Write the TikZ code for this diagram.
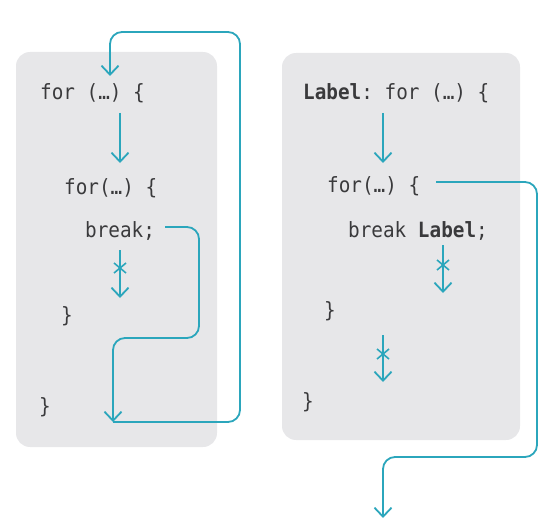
\documentclass[tikz,border=0pt]{standalone}
\usepackage{fontspec}
\setmonofont{DejaVu Sans Mono}[FakeStretch=0.92]
\usetikzlibrary{arrows.meta,calc}
\definecolor{flow}{HTML}{2BA6BC}
\definecolor{panel}{HTML}{E7E7E9}
\definecolor{code}{HTML}{3A3A3C}
\tikzset{
  panelbox/.style={fill=panel,draw=none,rounded corners=14pt},
  codetext/.style={anchor=base west,inner sep=0pt,text=code,font=\ttfamily\fontsize{21}{22}\selectfont},
  flowline/.style={draw=flow,line width=1.8pt,-{Straight Barb[length=9pt,width=17pt,line width=1.8pt]}},
  routeline/.style={flowline,rounded corners=12pt},
  crossmark/.style={draw=flow,line width=1.6pt}
}
\newcommand{\crossat}[1]{\draw[crossmark] ($(#1)+(-6pt,-5pt)$) -- ($(#1)+(6pt,5pt)$) ($(#1)+(-6pt,5pt)$) -- ($(#1)+(6pt,-5pt)$);}
\begin{document}
\begin{tikzpicture}[x=1pt,y=-1pt]
\useasboundingbox (0,0) rectangle (555,527);
% panels
\path[panelbox] (16,52) rectangle (217,447);
\path[panelbox] (282,53) rectangle (520,440);
% left code
\node[codetext] (lfor1) at (40,100) {for (…) \{};
\node[codetext] (lfor2) at (64,194) {for(…) \{};
\node[codetext] (lbrk) at (85,237) {break;};
\node[codetext] (lcl1) at (61,322) {\}};
\node[codetext] (lcl2) at (39,413) {\}};
% right code
\node[codetext] (rfor1) at (303,100) {\textbf{Label}: for (…) \{};
\node[codetext] (rfor2) at (327,193) {for(…) \{};
\node[codetext] (rbrk) at (348,237) {break \textbf{Label};};
\node[codetext] (rcl1) at (324,317) {\}};
\node[codetext] (rcl2) at (302,408) {\}};
% coordinates
\coordinate (la1s) at (120,113);
\coordinate (la1e) at (120,163);
\coordinate (lxs) at (120,250);
\coordinate (lxe) at (120,298);
\coordinate (lxc) at (120,268);
\coordinate (lbs) at (165,227);
\coordinate (lend) at (113,422);
\coordinate (ltop) at (110,76);
\coordinate (ra1s) at (383,113);
\coordinate (ra1e) at (383,163);
\coordinate (rx1s) at (443,245);
\coordinate (rx1e) at (443,293);
\coordinate (rx1c) at (443,265);
\coordinate (rx2s) at (383,335);
\coordinate (rx2e) at (383,382);
\coordinate (rx2c) at (383,354);
\coordinate (rbs) at (436,182);
\coordinate (rend) at (383,518);
% left arrows
\draw[flowline] (la1s) -- (la1e);
\draw[flowline] (lxs) -- (lxe);
\crossat{lxc}
\draw[routeline] (lbs) -- (199,227) -- (199,338) -- (113,338) -- (lend);
\draw[routeline] (lend) -- (240,422) -- (240,32) -- (110,32) -- (ltop);
% right arrows
\draw[flowline] (ra1s) -- (ra1e);
\draw[flowline] (rx1s) -- (rx1e);
\crossat{rx1c}
\draw[flowline] (rx2s) -- (rx2e);
\crossat{rx2c}
\draw[routeline] (rbs) -- (537,182) -- (537,457) -- (383,457) -- (rend);
\end{tikzpicture}
\end{document}
